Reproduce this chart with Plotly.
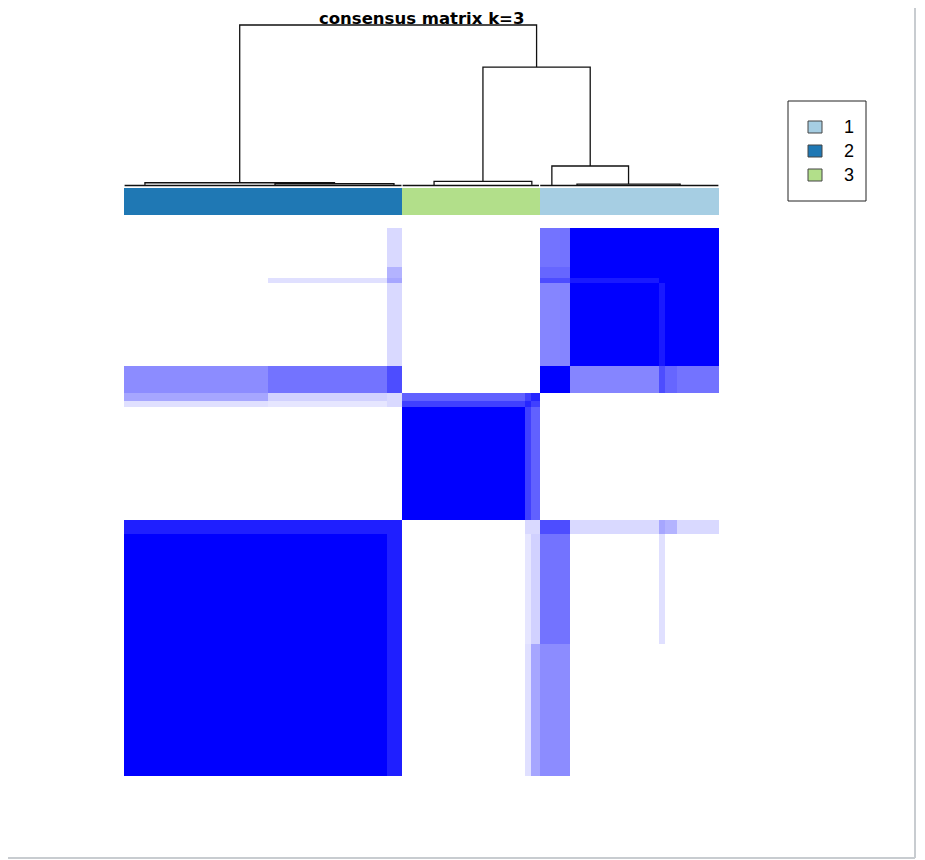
import numpy as np
import plotly.graph_objects as go

# ---------------- data ----------------
# sample groups in dendrogram leaf order (left -> right)
seg_names = ["B1", "B2", "B3", "C1", "C2a", "C2b", "A1", "A2", "A3a", "A3b", "A3c"]
seg_sizes = [48, 40, 5, 41, 2, 3, 10, 30, 2, 4, 14]
seg_cluster = [2, 2, 2, 3, 3, 3, 1, 1, 1, 1, 1]

# consensus values between groups (symmetric)
block_consensus = [
    # B1    B2    B3    C1    C2a   C2b   A1    A2    A3a   A3b   A3c
    [1.00, 1.00, 0.88, 0.00, 0.12, 0.35, 0.45, 0.00, 0.00, 0.00, 0.00],  # B1
    [1.00, 1.00, 0.88, 0.00, 0.10, 0.18, 0.55, 0.00, 0.12, 0.00, 0.00],  # B2
    [0.88, 0.88, 0.88, 0.00, 0.15, 0.15, 0.70, 0.15, 0.35, 0.30, 0.15],  # B3
    [0.00, 0.00, 0.00, 1.00, 0.75, 0.62, 0.00, 0.00, 0.00, 0.00, 0.00],  # C1
    [0.12, 0.10, 0.15, 0.75, 0.85, 0.75, 0.00, 0.00, 0.00, 0.00, 0.00],  # C2a
    [0.35, 0.18, 0.15, 0.62, 0.75, 0.85, 0.00, 0.00, 0.00, 0.00, 0.00],  # C2b
    [0.45, 0.55, 0.70, 0.00, 0.00, 0.00, 1.00, 0.48, 0.70, 0.60, 0.55],  # A1
    [0.00, 0.00, 0.15, 0.00, 0.00, 0.00, 0.48, 1.00, 0.90, 1.00, 1.00],  # A2
    [0.00, 0.12, 0.35, 0.00, 0.00, 0.00, 0.70, 0.90, 1.00, 1.00, 1.00],  # A3a
    [0.00, 0.00, 0.30, 0.00, 0.00, 0.00, 0.60, 1.00, 1.00, 1.00, 1.00],  # A3b
    [0.00, 0.00, 0.15, 0.00, 0.00, 0.00, 0.55, 1.00, 1.00, 1.00, 1.00],  # A3c
]

cluster_labels = ["1", "2", "3"]
cluster_colors = ["#A6CEE3", "#1F78B4", "#B2DF8A"]

# dendrogram: leaf-level groups (position in leaf order, height) and merges
dend_leaves = {
    "b_left": (6.5, 0.008),
    "b_mid": (50.0, 0.006),
    "b_right": (89.8, 0.004),
    "c_left": (103.2, 0.004),
    "c_right": (135.9, 0.010),
    "a1": (142.6, 0.004),
    "a2": (151.0, 0.004),
    "a3": (185.5, 0.006),
}
dend_merges = [
    ("b_sub", "b_mid", "b_right", 0.014),
    ("clu2", "b_left", "b_sub", 0.020),
    ("clu3", "c_left", "c_right", 0.028),
    ("a23", "a2", "a3", 0.012),
    ("clu1", "a1", "a23", 0.124),
    ("n13", "clu3", "clu1", 0.739),
    ("root", "clu2", "n13", 1.000),
]

title_text = "consensus matrix k=3"

# ---------------- build ----------------
V = np.array(block_consensus)
sizes = np.array(seg_sizes)
Z = np.repeat(np.repeat(V, sizes, axis=0), sizes, axis=1)
N = int(sizes.sum())
idx = np.arange(N)
member = np.repeat(np.array(seg_cluster), sizes)

W, H = 925, 860
OFF = 8  # page body margin
def px(x):
    return (x - OFF) / W
def py(y):
    return 1 - (y - OFF) / H

fig = go.Figure()

fig.add_trace(go.Heatmap(
    z=Z, x=idx, y=idx, zmin=0, zmax=1,
    colorscale=[[0, "#FFFFFF"], [1, "#0000FF"]],
    showscale=False, xaxis="x", yaxis="y", hoverinfo="skip"))

cs = [[0, cluster_colors[0]], [0.3333, cluster_colors[0]],
      [0.3333, cluster_colors[1]], [0.6667, cluster_colors[1]],
      [0.6667, cluster_colors[2]], [1, cluster_colors[2]]]
fig.add_trace(go.Heatmap(
    z=[member], x=idx, y=[0], zmin=1, zmax=3, colorscale=cs,
    showscale=False, xaxis="x", yaxis="y2", hoverinfo="skip"))

# dendrogram lines
pos = {k: v[0] for k, v in dend_leaves.items()}
hgt = {k: v[1] for k, v in dend_leaves.items()}
lx, ly = [], []
for name, a, b, h in dend_merges:
    lx += [pos[a], pos[a], pos[b], pos[b], None]
    ly += [hgt[a], h, h, hgt[b], None]
    pos[name] = (pos[a] + pos[b]) / 2
    hgt[name] = h
for k, (p, h) in dend_leaves.items():
    lx += [p, p, None]
    ly += [0, h, None]
# leaf baseline per cluster
for c in [2, 3, 1]:
    ii = idx[member == c]
    lx += [ii.min() - 0.3, ii.max() + 0.3, None]
    ly += [0.003, 0.003, None]
fig.add_trace(go.Scatter(x=lx, y=ly, mode="lines",
                         line=dict(color="#111111", width=1.3),
                         xaxis="x", yaxis="y3", hoverinfo="skip", showlegend=False))

ax_hidden = dict(showgrid=False, zeroline=False, showticklabels=False, ticks="", showline=False)
fig.update_layout(
    width=W, height=H, margin=dict(l=0, r=0, t=0, b=0),
    paper_bgcolor="white", plot_bgcolor="rgba(0,0,0,0)",
    showlegend=False,
    xaxis=dict(domain=[px(124), px(719)], range=[-0.5, N - 0.5], anchor="y", **ax_hidden),
    yaxis=dict(domain=[py(776), py(228)], range=[-0.5, N - 0.5], anchor="x", **ax_hidden),
    yaxis2=dict(domain=[py(215), py(188)], range=[-0.5, 0.5], anchor="x", **ax_hidden),
    yaxis3=dict(domain=[py(189.2), py(21.8)], range=[-0.02, 1.02], anchor="x", **ax_hidden),
)

# title
fig.add_annotation(text="<b>" + title_text + "</b>", xref="paper", yref="paper",
                   x=px(421), y=py(18.5), showarrow=False, xanchor="center", yanchor="middle",
                   font=dict(family="DejaVu Sans", size=16.5, color="black"))

# legend box
shapes = [dict(type="rect", xref="paper", yref="paper", x0=px(788), x1=px(866),
               y0=py(201), y1=py(101), line=dict(color="#222222", width=1), fillcolor="white")]
for k, (lab, col) in enumerate(zip(cluster_labels, cluster_colors)):
    yc = 127 + 24 * k
    shapes.append(dict(type="rect", xref="paper", yref="paper", x0=px(808), x1=px(822),
                       y0=py(yc + 6), y1=py(yc - 6), line=dict(color="#444444", width=1),
                       fillcolor=col))
    fig.add_annotation(text=lab, xref="paper", yref="paper", x=px(842), y=py(yc),
                       showarrow=False, xanchor="left", yanchor="middle",
                       font=dict(family="Liberation Sans, Arial", size=18, color="black"))
# outer frame (right and bottom edges visible in the window)
shapes.append(dict(type="line", xref="paper", yref="paper", x0=px(915), x1=px(915),
                   y0=py(858), y1=py(8), line=dict(color="#c8ccd0", width=2)))
shapes.append(dict(type="line", xref="paper", yref="paper", x0=px(8), x1=px(915),
                   y0=py(858), y1=py(858), line=dict(color="#c8ccd0", width=2)))
fig.update_layout(shapes=shapes)

fig.write_html("out.html")
